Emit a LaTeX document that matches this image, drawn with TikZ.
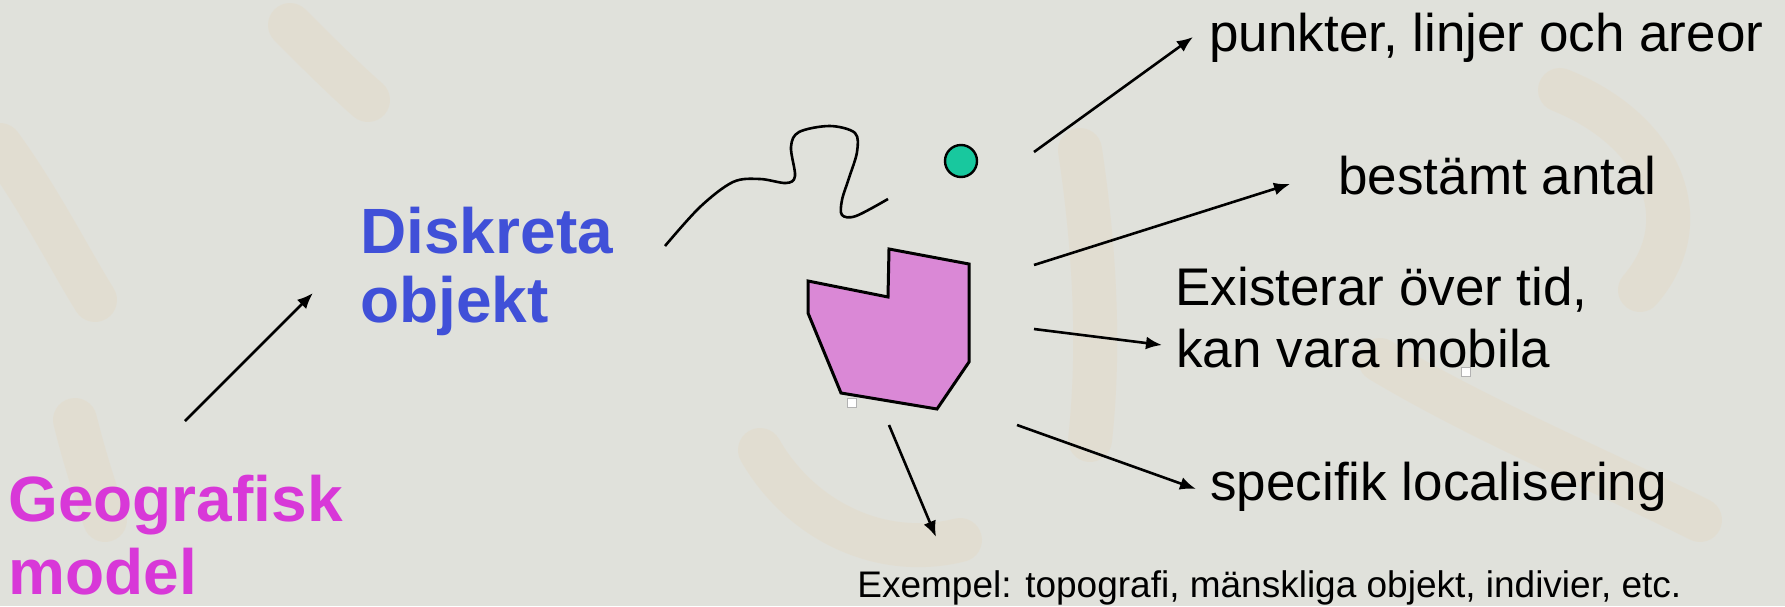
\documentclass[tikz,border=0pt]{standalone}
\usepackage{fontspec}
\setmainfont{Liberation Sans}
\usetikzlibrary{arrows.meta}
\definecolor{bg}{RGB}{224,225,219}
\definecolor{texc}{RGB}{232,210,176}
\definecolor{diskblue}{RGB}{64,80,216}
\definecolor{geomag}{RGB}{216,56,216}
\definecolor{polyfill}{RGB}{218,136,214}
\definecolor{dotfill}{RGB}{24,200,158}
\tikzset{
  lbl/.style={anchor=base west, inner sep=0pt, font=\fontsize{26.5}{30}\selectfont},
  big/.style={anchor=base west, inner sep=0pt, font=\bfseries\fontsize{32}{36}\selectfont},
  smalltxt/.style={anchor=base west, inner sep=0pt, font=\fontsize{18.5}{22}\selectfont},
  arr/.style={-{Latex[length=8pt,width=6.5pt]}, line width=1.3pt},
  texture/.style={line width=22pt, color=texc, opacity=0.22, line cap=round},
  handle/.style={draw=gray!60, fill=white, line width=0.6pt, minimum size=4.5pt, inner sep=0pt}
}
\begin{document}
\begin{tikzpicture}[x=0.5pt,y=-0.5pt]
\useasboundingbox (0,0) rectangle (1785,606);
\fill[bg] (0,0) rectangle (1785,606);
% faint background texture
\draw[texture] (0,145) .. controls (40,200) and (70,260) .. (95,300);
\draw[texture] (290,25) .. controls (320,55) and (345,80) .. (368,100);
\draw[texture] (75,420) .. controls (85,460) and (95,490) .. (105,520);
\draw[texture] (1080,150) .. controls (1095,250) and (1100,350) .. (1090,440);
\draw[texture] (1560,90) .. controls (1660,130) and (1700,220) .. (1640,290);
\draw[texture] (760,450) .. controls (800,520) and (880,560) .. (960,540);
\draw[texture] (1380,360) .. controls (1480,420) and (1600,470) .. (1700,520);

% labels
\node[big, text=diskblue] (disk1) at (360,253) {Diskreta};
\node[big, text=diskblue] (disk2) at (360,322) {objekt};
\node[big, text=geomag] (geo1) at (8,521) {Geografisk};
\node[big, text=geomag] (geo2) at (8,594) {model};
\node[lbl] (t1) at (1209,51) {punkter, linjer och areor};
\node[lbl] (t2) at (1338,194) {bestämt antal};
\node[lbl] (t3a) at (1175,305) {Existerar över tid,};
\node[lbl] (t3b) at (1176,367) {kan vara mobila};
\node[lbl] (t4) at (1210,500) {specifik localisering};
\node[smalltxt] (t5) at (857,597) {Exempel: topografi, mänskliga objekt, indivier, etc.};

% line feature
\draw[line width=1.3pt] plot[smooth, tension=0.55] coordinates {
 (665,246) (700,207) (733,182) (760,179) (786,183) (795,176) (791,147)
 (799,132) (830,126) (855,133) (857,152) (849,178) (842,200) (842,215)
 (856,216) (888,199)};
% point feature
\node[circle, draw=black, fill=dotfill, line width=1.2pt, minimum size=16pt, inner sep=0pt] (dot) at (961,161) {};
% area feature
\draw[line width=1.5pt, fill=polyfill] (808,281) -- (888,297) -- (889,249) -- (969,264)
  -- (969,362) -- (937,409) -- (841,393) -- (808,313) -- cycle;
% selection handles
\node[handle] (h1) at (852,403) {};
\node[handle] (h2) at (1466,372) {};

% arrows
\coordinate (g0) at (185,421);
\coordinate (g1) at (313,293);
\coordinate (a1s) at (1034,152);
\coordinate (a1e) at (1193,37);
\coordinate (a2s) at (1034,265);
\coordinate (a2e) at (1290,184);
\coordinate (a3s) at (1034,329);
\coordinate (a3e) at (1162,345);
\coordinate (a4s) at (1017,425);
\coordinate (a4e) at (1196,489);
\coordinate (a5s) at (889,425);
\coordinate (a5e) at (936,537);
\draw[arr] (g0) -- (g1);
\draw[arr] (a1s) -- (a1e);
\draw[arr] (a2s) -- (a2e);
\draw[arr] (a3s) -- (a3e);
\draw[arr] (a4s) -- (a4e);
\draw[arr] (a5s) -- (a5e);
\end{tikzpicture}
\end{document}
